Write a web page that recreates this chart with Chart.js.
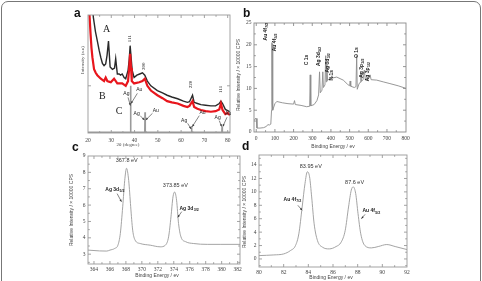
<!DOCTYPE html>
<html>
<head>
<meta charset="utf-8">
<script src="https://cdn.jsdelivr.net/npm/chart.js@4.4.0/dist/chart.umd.min.js"></script>
<style>
  html, body { margin: 0; padding: 0; background: #fff; }
  #frame { position: absolute; left: 1px; top: 1px; width: 478px; height: 300px; border: 1px solid #777; border-radius: 7px; }
  canvas { position: absolute; }
  .tag { position: absolute; font: bold 12px "Liberation Sans", Arial, sans-serif; line-height: 1; color: #111; }
</style>
</head>
<body>
<div id="frame"></div>
<canvas id="panelA"></canvas>
<canvas id="panelB"></canvas>
<canvas id="panelC"></canvas>
<canvas id="panelD"></canvas>
<div class="tag" style="left:74px;top:7px">a</div>
<div class="tag" style="left:243px;top:7px">b</div>
<div class="tag" style="left:72px;top:141px">c</div>
<div class="tag" style="left:242px;top:140px">d</div>
<script>
// (a) XRD patterns, 2θ in degrees, intensity in arbitrary units
const angleA = [21.6, 22.3, 23.2, 24, 24.8, 25.5, 26.2, 26.9, 27.6, 28.2, 28.8, 29.5, 30.5, 31.4, 31.9, 32.6, 33.4, 34, 34.7, 35.5, 36.2, 37.2, 37.7, 38.1, 38.6, 39, 39.8, 41, 42.2, 43.4, 44.4, 45.5, 47, 49.8, 52, 54, 56, 58.5, 61, 62.7, 63.6, 64.2, 64.9, 65.6, 67, 68.5, 70.5, 72.8, 74.8, 76.4, 77.1, 77.8, 79, 80, 81];
const intensityA = [115, 98, 86, 78, 70, 64, 59, 57, 58.5, 66, 78, 56, 54, 55, 63, 50, 50, 49, 50, 47, 46, 53, 62, 74, 62, 53, 47, 49, 50, 51, 49, 44, 40, 36, 34, 32, 30.5, 29, 27, 26, 26.5, 29, 32, 26, 25, 24, 23.5, 23, 23, 25, 27, 25, 20, 19, 18];
const angleB = [20.2, 20.7, 21.1, 21.5, 21.9, 22.6, 23.3, 24, 25.5, 26.2, 26.9, 27.6, 28.3, 29, 29.8, 31.2, 32.6, 34.7, 36.2, 37.2, 37.7, 38.1, 38.5, 38.8, 39.8, 42, 43.4, 44.4, 45.5, 47, 49.8, 52, 54, 56, 58.5, 61, 62.7, 63.6, 64.2, 64.9, 65.6, 67, 68.5, 70.5, 72.8, 74.8, 76.4, 77.1, 77.8, 79, 80, 81];
const intensityB = [115, 98, 84, 72, 64, 54, 51, 49, 46, 45, 44, 47, 44, 43.5, 43, 46, 42, 42, 40, 44, 55, 67, 55, 44, 42, 43, 44, 46, 40, 36, 32, 29.5, 27, 26, 25, 23, 22, 23, 25, 27, 22, 20.5, 19.5, 18.5, 18, 18.5, 20, 25, 19.5, 16, 17, 15];
const angleC = [20, 38.2, 38.3, 38.4, 44.4, 44.5, 44.6, 64.4, 64.5, 64.6, 77.5, 77.6, 77.7, 81];
const intensityC = [0.5, 0.5, 40, 0.5, 0.5, 17.5, 0.5, 0.5, 6, 0.5, 0.5, 5, 0.5, 0.5];

// (b) XPS survey, binding energy (eV) vs counts / 10000
const energyB = [-12, -2, 0, 4, 20, 40, 55, 62, 70, 78, 82, 84, 85.5, 87.5, 89, 100, 110, 140, 170, 200, 205, 209, 240, 270, 286, 289, 292, 310, 325, 334, 339, 343, 352, 356.5, 360, 368, 372, 375, 378, 382, 390, 400, 405, 410, 431, 466, 490, 500, 503, 506, 525, 534, 538, 541, 550, 556, 560, 564, 572, 579, 584, 600, 610, 615, 645, 680, 716, 760, 802];
const countsB = [2.6, 3.2, 3.1, 0.9, 0.9, 1.0, 1.3, 1.7, 1.6, 1.8, 5, 20.5, 6.5, 20.2, 5.0, 6.5, 7.0, 6.7, 6.5, 6.4, 7.2, 6.3, 6.1, 5.8, 5.9, 13.1, 6.0, 6.3, 7.2, 8.5, 13.8, 9.0, 9.6, 13.8, 10.2, 10.8, 17.5, 11.5, 15.8, 11.8, 12.2, 12.4, 12.9, 12.4, 12.6, 11.9, 10.9, 10.6, 11.7, 10.5, 10.2, 10.4, 17.5, 9.8, 11.0, 11.4, 13.5, 11.6, 12.0, 14.2, 12.0, 12.1, 13.1, 12.0, 11.9, 11.5, 11.1, 10.6, 10.0];

// (c) Ag 3d region
const energyC = [363.2, 364.7, 365.6, 366.0, 366.6, 367.0, 367.3, 367.6, 367.85, 368.08, 368.35, 368.6, 368.85, 369.15, 369.8, 371.05, 372.3, 372.95, 373.35, 373.65, 373.9, 374.1, 374.35, 374.6, 374.9, 375.5, 376.5, 378.2, 379.9, 382.4];
const countsC = [3.25, 3.2, 3.19, 3.25, 3.35, 3.55, 4.26, 5.9, 7.5, 8.25, 7.5, 5.9, 4.47, 3.86, 3.65, 3.55, 3.45, 3.55, 4.06, 5.28, 6.5, 6.8, 6.3, 4.87, 4.06, 3.76, 3.65, 3.6, 3.6, 3.6];

// (d) Au 4f region
const energyD = [80, 81.2, 82, 82.55, 82.96, 83.23, 83.5, 83.73, 83.92, 84.1, 84.27, 84.47, 84.74, 85.15, 85.7, 86.25, 86.66, 86.99, 87.26, 87.48, 87.64, 87.84, 88.03, 88.25, 88.58, 89.12, 89.67, 90.36, 91.04, 92];
const countsD = [0.5, 0.6, 0.75, 1.25, 2.0, 3.75, 7.75, 11.25, 13.0, 12.25, 9.25, 5.25, 2.75, 1.75, 1.5, 1.85, 2.5, 4.25, 7.75, 10.25, 10.75, 9.75, 6.75, 3.75, 2.0, 1.65, 1.85, 2.15, 1.85, 1.4];

const SERIF = '"Liberation Serif", "DejaVu Serif", serif';
const SANS = '"Liberation Sans", Arial, sans-serif';

function points(xs, ys) {
  return xs.map((x, i) => ({ x: x, y: ys[i] }));
}

function isMajor(v, step) {
  const r = v / step;
  return Math.abs(r - Math.round(r)) < 1e-6;
}

// every multiple of step between min and max
function tickList(min, max, step) {
  const out = [];
  for (let k = Math.ceil(min / step - 1e-9); k * step <= max + 1e-9; k++) {
    out.push({ value: +(k * step).toFixed(6) });
  }
  return out;
}

function drawText(ctx, L, px, py) {
  ctx.save();
  ctx.translate(px, py);
  if (L.rot) ctx.rotate(L.rot);
  ctx.fillStyle = L.color || '#222';
  ctx.textBaseline = 'middle';
  ctx.textAlign = 'left';
  ctx.font = L.font;
  const w1 = ctx.measureText(L.text).width;
  let w2 = 0;
  if (L.sub) {
    ctx.font = L.subFont;
    w2 = ctx.measureText(L.sub).width;
  }
  const x0 = -(w1 + w2) / 2;
  ctx.font = L.font;
  ctx.fillText(L.text, x0, 0);
  if (L.sub) {
    ctx.font = L.subFont;
    ctx.fillText(L.sub, x0 + w1 + 0.3, 1.6);
  }
  ctx.restore();
}

function drawArrow(ctx, x1, y1, x2, y2) {
  ctx.save();
  ctx.strokeStyle = '#333';
  ctx.fillStyle = '#333';
  ctx.lineWidth = 0.6;
  ctx.beginPath();
  ctx.moveTo(x1, y1);
  ctx.lineTo(x2, y2);
  ctx.stroke();
  const a = Math.atan2(y2 - y1, x2 - x1);
  ctx.beginPath();
  ctx.moveTo(x2, y2);
  ctx.lineTo(x2 - 2.6 * Math.cos(a - 0.4), y2 - 2.6 * Math.sin(a - 0.4));
  ctx.lineTo(x2 - 2.6 * Math.cos(a + 0.4), y2 - 2.6 * Math.sin(a + 0.4));
  ctx.closePath();
  ctx.fill();
  ctx.restore();
}

function panel(id, box, area, cfg) {
  const cv = document.getElementById(id);
  cv.style.left = box[0] + 'px';
  cv.style.top = box[1] + 'px';
  cv.width = box[2];
  cv.height = box[3];
  const yW = area.l - box[0];
  const xH = box[1] + box[3] - area.b;

  const decor = {
    id: 'decor',
    afterDraw(chart) {
      const ctx = chart.ctx;
      const ca = chart.chartArea;
      const xs = chart.scales.x, ys = chart.scales.y;
      ctx.save();
      ctx.strokeStyle = cfg.frame;
      ctx.lineWidth = 0.9;
      ctx.strokeRect(ca.left, ca.top, ca.right - ca.left, ca.bottom - ca.top);
      // inward ticks on all four sides
      ctx.beginPath();
      xs.ticks.forEach(t => {
        const p = xs.getPixelForValue(t.value);
        if (p < ca.left + 0.5 || p > ca.right - 0.5) return;
        const len = isMajor(t.value, cfg.xMajor) ? 3 : 1.8;
        ctx.moveTo(p, ca.bottom); ctx.lineTo(p, ca.bottom - len);
        ctx.moveTo(p, ca.top); ctx.lineTo(p, ca.top + len);
      });
      ys.ticks.forEach(t => {
        const p = ys.getPixelForValue(t.value);
        if (p < ca.top + 0.5 || p > ca.bottom - 0.5) return;
        const len = isMajor(t.value, cfg.yMajor) ? 3 : 1.8;
        ctx.moveTo(ca.left, p); ctx.lineTo(ca.left + len, p);
        ctx.moveTo(ca.right, p); ctx.lineTo(ca.right - len, p);
      });
      ctx.stroke();
      ctx.restore();

      (cfg.labels || []).forEach(L => {
        drawText(ctx, L, xs.getPixelForValue(L.x), ys.getPixelForValue(L.y));
      });
      (cfg.arrows || []).forEach(A => {
        drawArrow(ctx, xs.getPixelForValue(A[0]), ys.getPixelForValue(A[1]),
                  xs.getPixelForValue(A[2]), ys.getPixelForValue(A[3]));
      });
      // axis titles, placed at page positions
      (cfg.titles || []).forEach(T => {
        drawText(ctx, T, T.px - box[0], T.py - box[1]);
      });
    }
  };

  new Chart(cv, {
    type: 'line',
    data: { datasets: cfg.datasets },
    options: {
      responsive: false,
      animation: false,
      events: [],
      layout: { padding: { top: area.t - box[1], right: box[0] + box[2] - area.r, left: 0, bottom: 0 } },
      elements: { point: { radius: 0 } },
      plugins: { legend: { display: false }, tooltip: { enabled: false } },
      scales: {
        x: {
          type: 'linear', min: cfg.xMin, max: cfg.xMax,
          grid: { display: false, drawTicks: false },
          border: { display: false },
          afterFit: s => { s.height = xH; },
          afterBuildTicks: s => { s.ticks = tickList(cfg.xMin, cfg.xMax, cfg.xStep); },
          ticks: {
            autoSkip: false, maxRotation: 0, padding: cfg.xPad,
            color: '#444', font: { family: SERIF, size: 5.5 },
            callback: v => isMajor(v, cfg.xMajor) ? String(v) : ''
          }
        },
        y: {
          type: 'linear', min: cfg.yMin, max: cfg.yMax,
          grid: { display: false, drawTicks: false },
          border: { display: false },
          afterFit: s => { s.width = yW; },
          afterBuildTicks: s => {
            s.ticks = cfg.yTicks ? cfg.yTicks.map(v => ({ value: v })) : tickList(cfg.yMin, cfg.yMax, cfg.yStep);
          },
          ticks: {
            display: cfg.yLabels !== false,
            autoSkip: false, padding: 2.5,
            color: '#444', font: { family: SERIF, size: 5.5 },
            callback: v => isMajor(v, cfg.yMajor) ? String(v) : ''
          }
        }
      }
    },
    plugins: [decor]
  });
}

const small = '5px ' + SANS;
const smallBold = 'bold 5px ' + SANS;
const subBold = 'bold 3.6px ' + SANS;
const rotUp = -Math.PI / 2;

// panel a
panel('panelA', [60, 8, 182, 145], { l: 88, t: 15, r: 230, b: 133 }, {
  frame: '#999',
  xMin: 20, xMax: 81, xStep: 5, xMajor: 10, xPad: 4,
  yMin: 0, yMax: 100, yMajor: 40, yTicks: [40], yLabels: false,
  datasets: [
    { data: points(angleC, intensityC), borderColor: '#9a9a9a', borderWidth: 1.6, tension: 0 },
    { data: points(angleB, intensityB), borderColor: '#e8161d', borderWidth: 2.2, tension: 0 },
    { data: points(angleA, intensityA), borderColor: '#2a2a2a', borderWidth: 1.4, tension: 0 }
  ],
  labels: [
    { text: 'A', x: 28.0, y: 88, font: '10px ' + SERIF },
    { text: 'B', x: 26.2, y: 31, font: '10px ' + SERIF },
    { text: 'C', x: 33.3, y: 18, font: '10px ' + SERIF },
    { text: '111', x: 37.9, y: 80, rot: rotUp, font: '5px ' + SERIF },
    { text: '200', x: 43.8, y: 56.5, rot: rotUp, font: '5px ' + SERIF },
    { text: '220', x: 63.9, y: 41, rot: rotUp, font: '5px ' + SERIF },
    { text: '111', x: 77.1, y: 37, rot: rotUp, font: '5px ' + SERIF },
    { text: 'Ag', x: 36.5, y: 33, font: small },
    { text: 'Au', x: 42.0, y: 36.4, font: small },
    { text: 'Ag', x: 40.9, y: 16.7, font: small },
    { text: 'Au', x: 49.1, y: 18.9, font: small },
    { text: 'Ag', x: 61.3, y: 10.5, font: small },
    { text: 'Au', x: 69.2, y: 17, font: small },
    { text: 'Ag', x: 75.7, y: 12.7, font: small },
    { text: 'Au', x: 80.2, y: 16, font: small }
  ],
  arrows: [
    [37.2, 30.2, 38.2, 23.2], [41.2, 33.6, 38.5, 25],
    [42.4, 14.7, 44.2, 11], [47.7, 16.7, 44.8, 11],
    [62.8, 8.2, 64.3, 3.4], [67.8, 14.7, 64.8, 5.4],
    [76.4, 10.5, 77.4, 5.4], [79.7, 13.3, 77.9, 5.4]
  ],
  titles: [
    { text: 'Intensity (a.u)', px: 83, py: 60, rot: rotUp, font: '5px ' + SERIF, color: '#444' },
    { text: '2θ (degree)', px: 128, py: 145, font: '5px ' + SERIF, color: '#444' }
  ]
});

// panel b
panel('panelB', [232, 10, 190, 145], { l: 254, t: 23, r: 406, b: 132 }, {
  frame: '#8a8a8a',
  xMin: -12, xMax: 802, xStep: 50, xMajor: 100, xPad: 3.5,
  yMin: 0, yMax: 25, yStep: 2.5, yMajor: 5,
  datasets: [
    { data: points(energyB, countsB), borderColor: '#8c8c8c', borderWidth: 0.9, tension: 0 }
  ],
  labels: [
    { text: 'Au 4f', sub: '7/2', x: 50, y: 23, rot: rotUp, font: smallBold, subFont: subBold },
    { text: 'Au 4f', sub: '5/2', x: 97, y: 20.5, rot: rotUp, font: smallBold, subFont: subBold },
    { text: 'C 1s', x: 271, y: 16.5, rot: rotUp, font: smallBold },
    { text: 'Ag 3d', sub: '5/2', x: 333, y: 17.3, rot: rotUp, font: smallBold, subFont: subBold },
    { text: 'Ag 3d', sub: '3/2', x: 383, y: 15.8, rot: rotUp, font: smallBold, subFont: subBold },
    { text: 'N 1s', x: 405, y: 13, rot: rotUp, font: smallBold },
    { text: 'O 1s', x: 535, y: 18.2, rot: rotUp, font: smallBold },
    { text: 'Ag 3p', sub: '3/2', x: 565, y: 14.6, rot: rotUp, font: smallBold, subFont: subBold },
    { text: 'Ag 3p', sub: '1/2', x: 594, y: 13.8, rot: rotUp, font: smallBold, subFont: subBold }
  ],
  titles: [
    { text: 'Relative Intensity / × 10000 CPS', px: 239, py: 75, rot: rotUp, font: small, color: '#444' },
    { text: 'Binding Energy / ev', px: 333, py: 147, font: small, color: '#444' }
  ]
});

// panel c
panel('panelC', [60, 140, 188, 141], { l: 88, t: 156, r: 240, b: 264 }, {
  frame: '#999',
  xMin: 363.25, xMax: 382.3, xStep: 1, xMajor: 2, xPad: 2.5,
  yMin: 2.4, yMax: 9, yStep: 0.5, yMajor: 1,
  datasets: [
    { data: points(energyC, countsC), borderColor: '#9a9a9a', borderWidth: 0.9, tension: 0.4, cubicInterpolationMode: 'monotone' }
  ],
  labels: [
    { text: '367.8 eV', x: 368.1, y: 8.7, font: '5.5px ' + SANS, color: '#333' },
    { text: '373.85 eV', x: 374.2, y: 7.2, font: '5.5px ' + SANS, color: '#333' },
    { text: 'Ag 3d', sub: '5/2', x: 366.6, y: 6.95, font: smallBold, subFont: subBold },
    { text: 'Ag 3d', sub: '3/2', x: 375.9, y: 5.8, font: smallBold, subFont: subBold }
  ],
  arrows: [
    [366.9, 6.7, 367.45, 6.2],
    [375.0, 5.6, 374.5, 5.25]
  ],
  titles: [
    { text: 'Relative Intensity / × 10000 CPS', px: 72, py: 210, rot: rotUp, font: small, color: '#444' },
    { text: 'Binding Energy / ev', px: 157, py: 276, font: small, color: '#444' }
  ]
});

// panel d
panel('panelD', [236, 140, 182, 141], { l: 259, t: 155, r: 407, b: 267 }, {
  frame: '#999',
  xMin: 80, xMax: 92, xStep: 1, xMajor: 2, xPad: 2.5,
  yMin: -1.2, yMax: 15.5, yStep: 1, yMajor: 2,
  datasets: [
    { data: points(energyD, countsD), borderColor: '#9a9a9a', borderWidth: 0.9, tension: 0.4, cubicInterpolationMode: 'monotone' }
  ],
  labels: [
    { text: '83.95 eV', x: 84.2, y: 13.75, font: '5.5px ' + SANS, color: '#333' },
    { text: '87.6 eV', x: 87.75, y: 11.4, font: '5.5px ' + SANS, color: '#333' },
    { text: 'Au 4f', sub: '7/2', x: 82.7, y: 8.85, font: smallBold, subFont: subBold },
    { text: 'Au 4f', sub: '5/2', x: 89.1, y: 7.15, font: smallBold, subFont: subBold }
  ],
  arrows: [
    [83.15, 8.0, 83.5, 7.25],
    [88.6, 6.65, 88.3, 6.0]
  ],
  titles: [
    { text: 'Relative Intensity / × 10000 CPS', px: 245, py: 212, rot: rotUp, font: small, color: '#444' },
    { text: 'Binding Energy / ev', px: 331, py: 278, font: small, color: '#444' }
  ]
});
</script>
</body>
</html>
